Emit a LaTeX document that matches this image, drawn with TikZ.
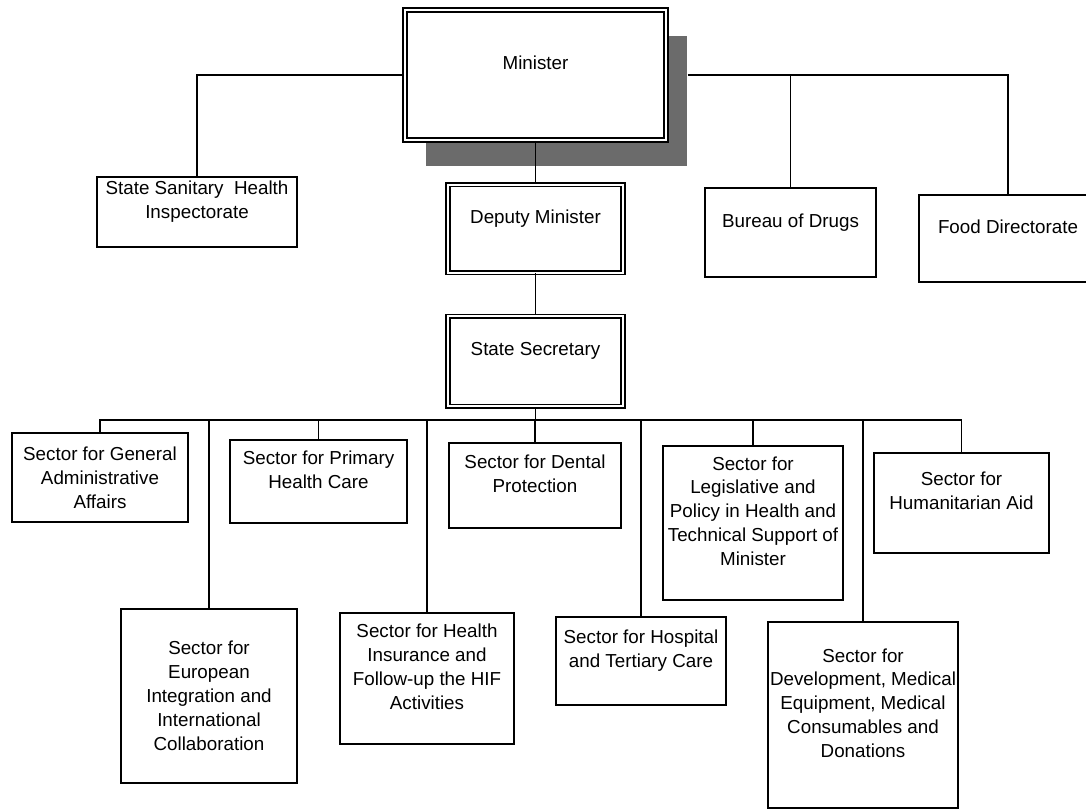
\documentclass[tikz,border=0pt]{standalone}
\usepackage{fontspec}
\setmainfont{Liberation Sans}
\usepackage{tikz}
\usetikzlibrary{positioning, shadows}

\begin{document}
\begin{tikzpicture}[x=0.02cm, y=-0.02cm,
font=\fontsize{10.7}{13.6}\selectfont,
unit/.style={rectangle, draw, line width=1.1pt, fill=white,
align=center, inner sep=1pt},
headunit/.style={unit, double, line width=0.95pt, double distance=1.1pt},
link/.style={line width=1.1pt}]

\useasboundingbox (0,0) rectangle (1086,810);

\node[headunit, minimum width=5.22cm, minimum height=2.6cm,
    drop shadow={shadow xshift=0.42cm, shadow yshift=-0.52cm,
    fill=black!58, opacity=1}] (minister) at (535.5,75)
    {Minister\\\mbox{}};
\node[headunit, minimum width=3.5cm, minimum height=1.76cm,
    below=0.86cm of minister] (deputy)
    {Deputy Minister\\\mbox{}};
\node[headunit, minimum width=3.5cm, minimum height=1.8cm,
    below=0.84cm of deputy] (secretary)
    {State Secretary\\\mbox{}};

\node[unit, minimum width=4cm, minimum height=1.4cm] (sanitary) at (197,212)
    {State Sanitary\ \ Health\\Inspectorate\\\mbox{}};
\node[unit, minimum width=3.42cm, minimum height=1.78cm] (bureau) at (790.5,232.5)
    {Bureau of Drugs\\\mbox{}};
\node[unit, minimum width=3.56cm, minimum height=1.74cm] (food) at (1008,238.5)
    {Food Directorate\\\mbox{}};

\node[unit, minimum width=3.52cm, minimum height=1.78cm] (general) at (100,477.5)
    {Sector for General\\Administrative\\Affairs};
\node[unit, minimum width=3.52cm, minimum height=3.48cm] (european) at (209,696)
    {Sector for\\European\\Integration and\\International\\Collaboration};
\node[unit, minimum width=3.54cm, minimum height=1.66cm] (primary) at (318.5,481.5)
    {Sector for Primary\\Health Care\\\mbox{}};
\node[unit, minimum width=3.48cm, minimum height=2.62cm] (insurance) at (427,678.5)
    {Sector for Health\\Insurance and\\Follow-up the HIF\\Activities\\\mbox{}};
\node[unit, minimum width=3.44cm, minimum height=1.7cm] (dental) at (535,485.5)
    {Sector for Dental\\Protection\\\mbox{}};
\node[unit, minimum width=3.4cm, minimum height=1.76cm] (hospital) at (641,661)
    {Sector for Hospital\\and Tertiary Care\\\mbox{}};
\node[unit, minimum width=3.6cm, minimum height=3.08cm] (legislative) at (753,523)
    {Sector for\\Legislative and\\Policy in Health and\\Technical Support of\\Minister\\\mbox{}};
\node[unit, minimum width=3.8cm, minimum height=3.72cm] (development) at (863,715)
    {Sector for\\Development, Medical\\Equipment, Medical\\Consumables and\\Donations\\\mbox{}};
\node[unit, minimum width=3.5cm, minimum height=2cm] (humanitarian) at (961.5,503)
    {Sector for\\Humanitarian Aid\\\mbox{}};

\coordinate (bus) at (secretary.south |- 0,420);

\draw[link] (minister.west) -| (sanitary.north);
\draw[link] ([xshift=0.42cm]minister.east) -| (bureau.north);
\draw[link] ([xshift=0.42cm]minister.east) -| (food.north);
\draw[link] (minister) -- (deputy);
\draw[link] (deputy) -- (secretary);
\draw[link] (secretary) -- (bus);
\foreach \sector in {general, european, primary, insurance, dental,
    hospital, legislative, development, humanitarian}
    \draw[link] (bus) -| (\sector.north);
\end{tikzpicture}
\end{document}
